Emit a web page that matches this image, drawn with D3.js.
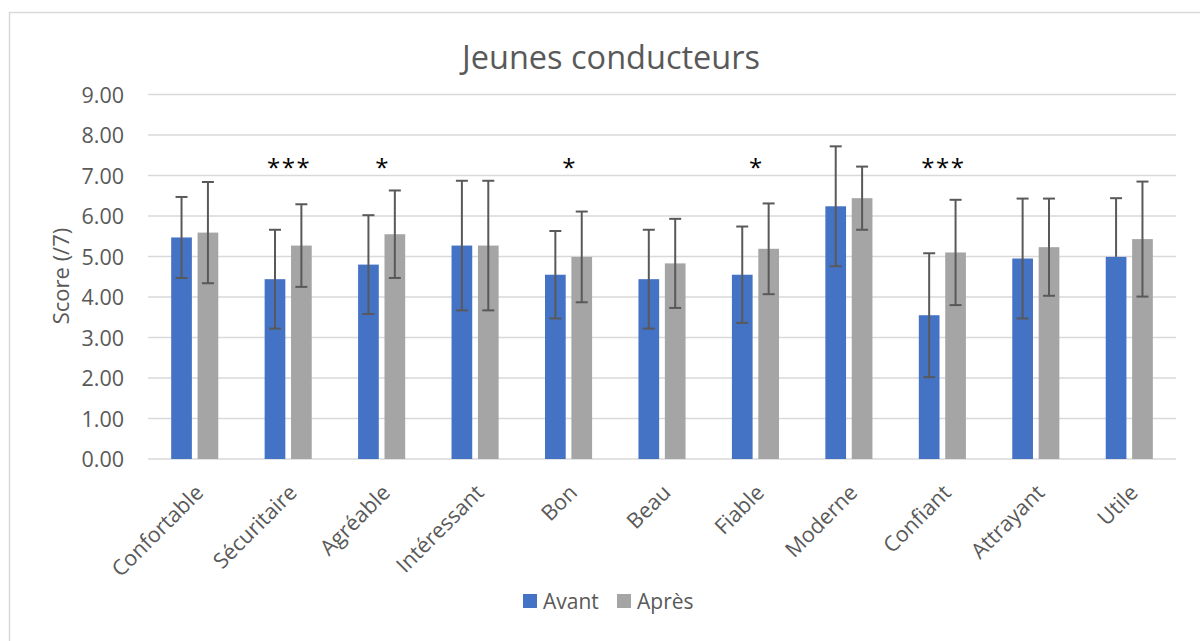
<!DOCTYPE html>
<html>
<head>
<meta charset="utf-8">
<script src="https://cdn.jsdelivr.net/npm/d3@7"></script>
<style>
  body { margin: 0; background: #fff; }
  svg text { font-family: "Open Sans", "Noto Sans", sans-serif; }
</style>
</head>
<body>
<div id="chart"></div>
<script>
// categories and values
const categories = ["Confortable", "Sécuritaire", "Agréable", "Intéressant", "Bon", "Beau",
                    "Fiable", "Moderne", "Confiant", "Attrayant", "Utile"];
const avant = [5.47, 4.44, 4.80, 5.27, 4.55, 4.44, 4.55, 6.24, 3.55, 4.95, 4.99];
const avantErrUp = [1.00, 1.22, 1.22, 1.60, 1.08, 1.22, 1.19, 1.48, 1.53, 1.48, 1.45];
const avantErrDown = [1.00, 1.22, 1.22, 1.60, 1.08, 1.22, 1.19, 1.48, 1.53, 1.48, 0];
const apres = [5.59, 5.27, 5.55, 5.27, 4.99, 4.83, 5.19, 6.44, 5.10, 5.23, 5.43];
const apresErr = [1.25, 1.02, 1.08, 1.60, 1.12, 1.10, 1.12, 0.78, 1.30, 1.20, 1.42];
const stars = ["", "***", "*", "", "*", "", "*", "", "***", "", ""];
const seriesNames = ["Avant", "Après"];
const yTicks = [0, 1, 2, 3, 4, 5, 6, 7, 8, 9];

const colors = { "Avant": "#4472C4", "Après": "#A5A5A5" };

let width = 1200;
let height = 641;
let plot = { left: 148, right: 1176, top: 94.5, bottom: 459 };

let svg = d3.select("#chart")
  .append("svg")
    .attr("width", width)
    .attr("height", height);

// chart frame (only left and top edge are in view)
svg.append("rect")
  .attr("x", 9.5)
  .attr("y", 12.5)
  .attr("width", 1300)
  .attr("height", 700)
  .attr("fill", "none")
  .attr("stroke", "#d9d9d9")
  .attr("stroke-width", 1.5);

// title
svg.append("text")
  .attr("x", 611)
  .attr("y", 69)
  .attr("text-anchor", "middle")
  .attr("fill", "#595959")
  .style("font-size", "32.5px")
  .text("Jeunes conducteurs");

let xScale = d3.scaleBand()
  .domain(categories)
  .range([plot.left, plot.right]);

let xSub = d3.scaleBand()
  .domain(seriesNames)
  .range([0, xScale.bandwidth()])
  .paddingInner(0.216)
  .paddingOuter(0.878);

let yScale = d3.scaleLinear()
  .domain([0, 9])
  .range([plot.bottom, plot.top]);

// gridlines
svg.append("g")
  .selectAll("line")
  .data(yTicks)
  .enter()
  .append("line")
    .attr("x1", plot.left)
    .attr("x2", plot.right)
    .attr("y1", d => yScale(d))
    .attr("y2", d => yScale(d))
    .attr("stroke", "#d9d9d9")
    .attr("stroke-width", 1.5);

// y axis labels
let yAxis = d3.axisLeft(yScale)
  .tickValues(yTicks)
  .tickFormat(d3.format(".2f"))
  .tickSize(0)
  .tickPadding(24);

let yG = svg.append("g")
  .attr("transform", "translate(" + plot.left + ",0)")
  .call(yAxis);
yG.select(".domain").remove();
yG.selectAll("text")
  .attr("fill", "#595959")
  .style("font-size", "21.5px")
  .attr("dy", "0.35em");

// y axis title
svg.append("text")
  .attr("transform", "translate(69, 276) rotate(-90)")
  .attr("text-anchor", "middle")
  .attr("fill", "#595959")
  .style("font-size", "22px")
  .text("Score (/7)");

// x axis labels
let xAxis = d3.axisBottom(xScale).tickSize(0).tickPadding(0);
let xG = svg.append("g")
  .attr("transform", "translate(0," + plot.bottom + ")")
  .call(xAxis);
xG.select(".domain").remove();
xG.selectAll("text")
  .attr("fill", "#595959")
  .style("font-size", "21.5px")
  .attr("text-anchor", "end")
  .attr("dy", 0)
  .attr("y", 0)
  .attr("transform", "translate(10, 35) rotate(-45)");

// bars
let rows = categories.map((c, i) => ({
  cat: c,
  vals: [
    { name: "Avant", v: avant[i], up: avantErrUp[i], down: avantErrDown[i] },
    { name: "Après", v: apres[i], up: apresErr[i], down: apresErr[i] }
  ]
}));

let groups = svg.append("g")
  .selectAll("g")
  .data(rows)
  .enter()
  .append("g")
    .attr("transform", d => "translate(" + xScale(d.cat) + ",0)");

groups.selectAll("rect")
  .data(d => d.vals)
  .enter()
  .append("rect")
    .attr("x", d => xSub(d.name))
    .attr("width", xSub.bandwidth())
    .attr("y", d => yScale(d.v))
    .attr("height", d => yScale(0) - yScale(d.v))
    .attr("fill", d => colors[d.name]);

// error bars
let err = groups.selectAll(".err")
  .data(d => d.vals)
  .enter()
  .append("g")
    .attr("class", "err")
    .attr("stroke", "#595959")
    .attr("stroke-width", 2);

let cx = d => xSub(d.name) + xSub.bandwidth() / 2;

err.append("line")
  .attr("x1", cx)
  .attr("x2", cx)
  .attr("y1", d => yScale(d.v + d.up))
  .attr("y2", d => yScale(d.v - d.down));

err.append("line")
  .attr("x1", d => cx(d) - 6)
  .attr("x2", d => cx(d) + 6)
  .attr("y1", d => yScale(d.v + d.up))
  .attr("y2", d => yScale(d.v + d.up));

err.filter(d => d.down > 0)
  .append("line")
  .attr("x1", d => cx(d) - 6)
  .attr("x2", d => cx(d) + 6)
  .attr("y1", d => yScale(d.v - d.down))
  .attr("y2", d => yScale(d.v - d.down));

// significance stars
svg.append("g")
  .selectAll("text")
  .data(categories.filter((c, i) => stars[i] !== ""))
  .enter()
  .append("text")
    .attr("x", d => xScale(d) + xScale.bandwidth() / 2 + 1)
    .attr("y", yScale(7.4) + 17)
    .attr("text-anchor", "middle")
    .attr("fill", "#000")
    .style("font-size", "24px")
    .style("letter-spacing", "1.5px")
    .text(d => stars[categories.indexOf(d)]);

// legend
let legend = svg.append("g")
  .attr("transform", "translate(523, 594)");

let legendItems = legend.selectAll("g")
  .data(seriesNames)
  .enter()
  .append("g")
    .attr("transform", (d, i) => "translate(" + (i * 94) + ",0)");

legendItems.append("rect")
  .attr("width", 14)
  .attr("height", 14)
  .attr("fill", d => colors[d]);

legendItems.append("text")
  .attr("x", 20)
  .attr("y", 14.5)
  .attr("fill", "#595959")
  .style("font-size", "21px")
  .text(d => d);
</script>
</body>
</html>
